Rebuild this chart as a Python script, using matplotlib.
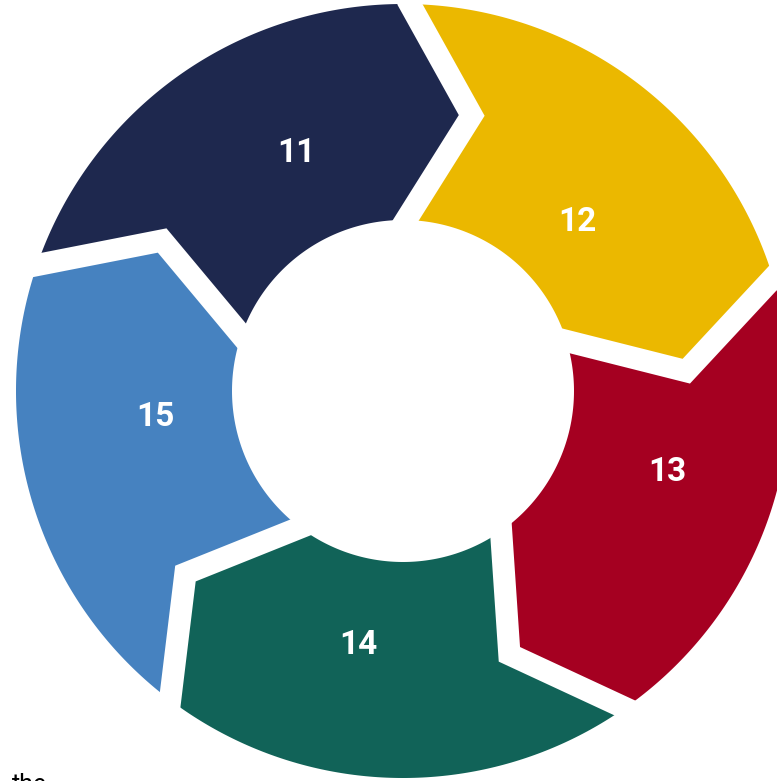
import numpy as np
import matplotlib.pyplot as plt
from matplotlib.patches import Polygon

# Données du cycle
labels = ['11', '12', '13', '14', '15']
values = [1, 1, 1, 1, 1]
colors = ['#1E284E', '#EBB800', '#A50021', '#116358', '#4682C0']

# Mise en page (pixels)
W, H = 777, 781
cx, cy = 403, 391
r_out, r_in = 387, 171
r_tip = 284
delta = 13       # décalage angulaire de la pointe
start = 161      # angle de départ (degrés)
gap = 16         # largeur du blanc entre flèches (pt)
lab_ang = [114, 44, -17, -100, 186]
lab_r = [261, 243, 276, 258, 249]


def pt(a, r):
    t = np.radians(a)
    return cx + r * np.cos(t), cy - r * np.sin(t)


fig = plt.figure(figsize=(W / 100, H / 100), dpi=100)
ax = fig.add_axes([0, 0, 1, 1])
ax.set_xlim(0, W)
ax.set_ylim(H, 0)
ax.axis('off')

spans = 360 * np.array(values) / sum(values)
bounds = start - np.concatenate([[0], np.cumsum(spans)])

for i in range(len(values)):
    a0, a1 = bounds[i], bounds[i + 1]
    pts = [pt(a, r_out) for a in np.linspace(a0, a1, 120)]
    pts.append(pt(a1 - delta, r_tip))
    pts += [pt(a, r_in) for a in np.linspace(a1, a0, 80)]
    pts.append(pt(a0 - delta, r_tip))
    ax.add_patch(Polygon(pts, closed=True, facecolor=colors[i], edgecolor='none'))

# Blancs en chevron entre les flèches
for a in bounds[:-1]:
    p0 = np.array(pt(a, r_out))
    p1 = np.array(pt(a - delta, r_tip))
    p2 = np.array(pt(a, r_in))
    e0 = p0 + (p0 - p1) / np.linalg.norm(p0 - p1) * 40
    e2 = p2 + (p2 - p1) / np.linalg.norm(p2 - p1) * 40
    xs = [e0[0], p1[0], e2[0]]
    ys = [e0[1], p1[1], e2[1]]
    ax.plot(xs, ys, color='white', lw=gap, solid_joinstyle='miter',
            solid_capstyle='butt')

for lab, a, r in zip(labels, lab_ang, lab_r):
    x, y = pt(a, r)
    ax.text(x, y, lab, color='white', fontsize=24, fontweight='bold',
            family='Roboto', ha='center', va='center')

# Début de légende coupée en bas (comme dans l'original)
ax.text(12, 773, 'the', color='black', fontsize=18, family='Roboto',
        ha='left', va='top')

fig.savefig('out.png', dpi=100)
